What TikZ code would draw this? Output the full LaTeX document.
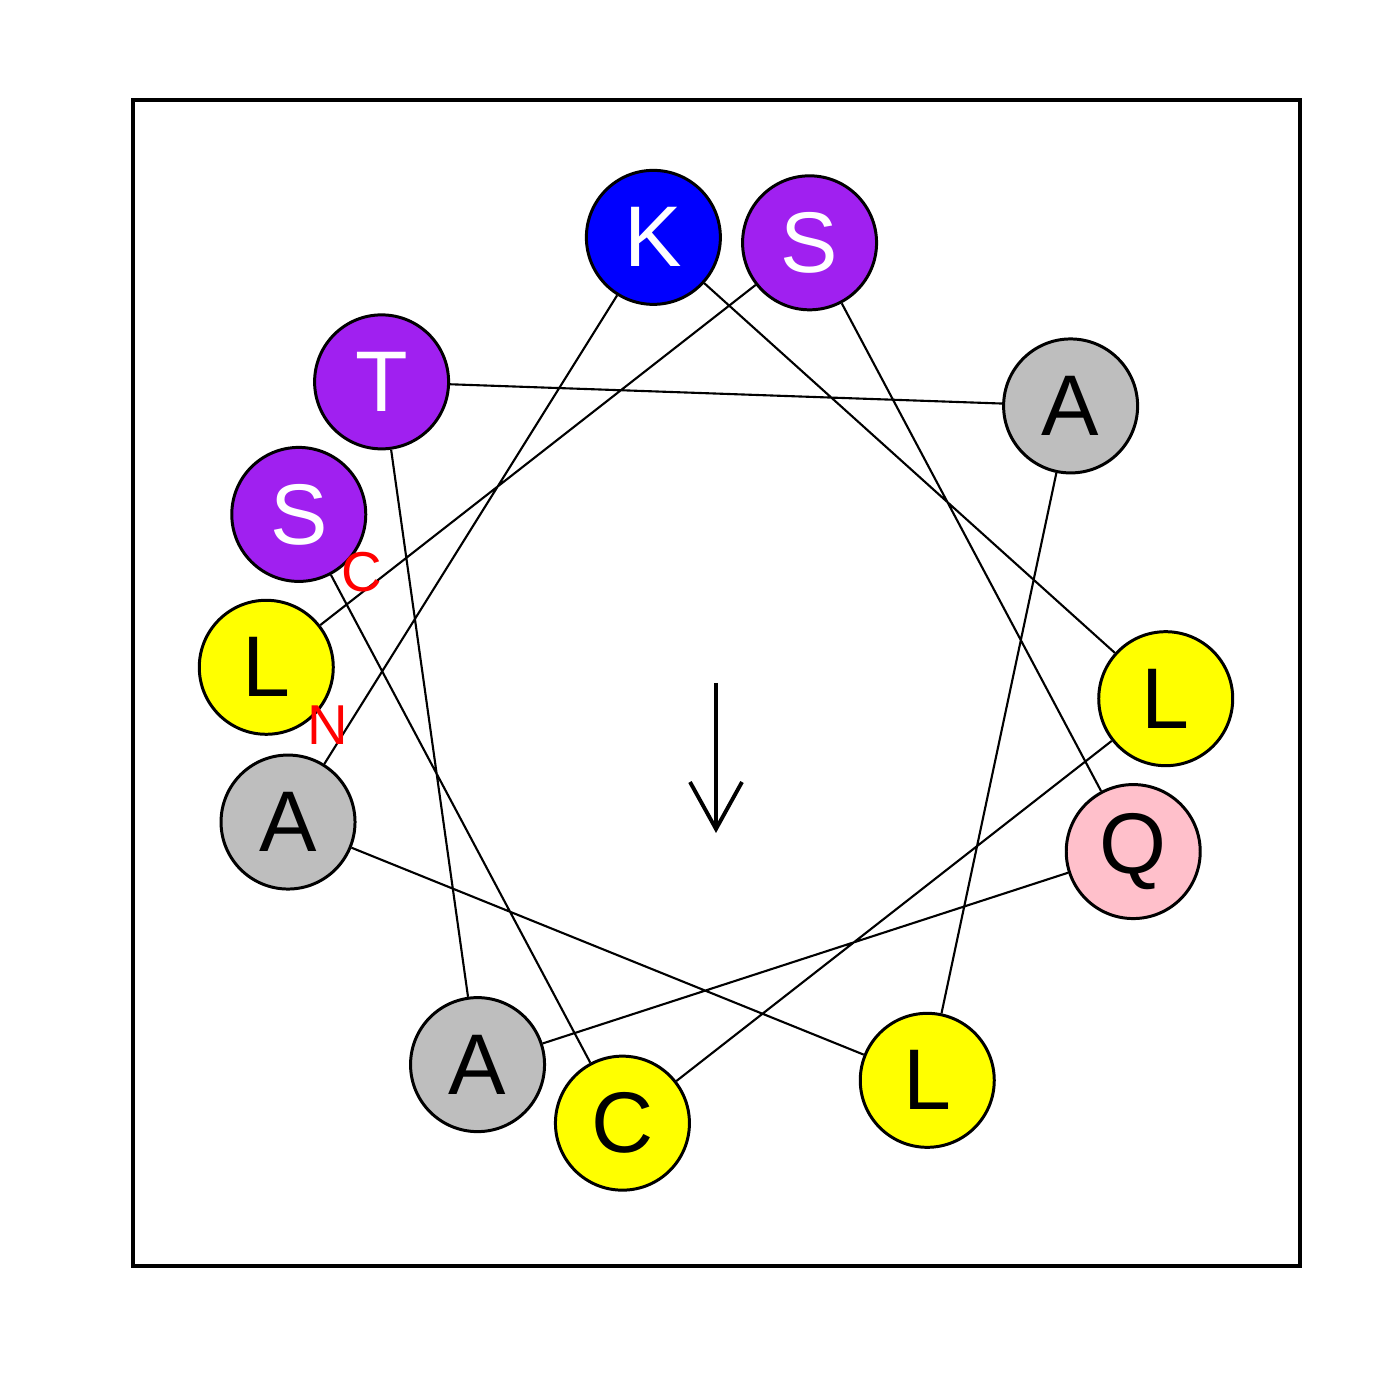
\documentclass[tikz,border=0pt]{standalone}
\usepackage{fontspec}
\setmainfont{Liberation Sans}
\usepackage{xcolor}
\usepackage{tikz}
\usetikzlibrary{arrows.meta,calc}
\definecolor{wheelPurple}{HTML}{A020F0}
\definecolor{wheelGray}{HTML}{BEBEBE}
\definecolor{wheelPink}{HTML}{FFC0CB}
\definecolor{wheelYellow}{HTML}{FFFF00}
\definecolor{wheelBlue}{HTML}{0000FF}
\tikzset{
  residue/.style={circle, draw=black, line width=0.85pt, minimum size=13.4mm,
    inner sep=0pt, font=\fontsize{24.5}{24.5}\selectfont},
  polar res/.style={residue, fill=wheelPurple, text=white},
  basic res/.style={residue, fill=wheelBlue, text=white},
  apolar res/.style={residue, fill=wheelGray, text=black},
  hydro res/.style={residue, fill=wheelYellow, text=black},
  amide res/.style={residue, fill=wheelPink, text=black},
  bond/.style={line width=0.6pt, draw=black},
  moment/.style={-{Straight Barb[length=4.7mm, width=5.2mm, line width=1.1pt]},
    line width=1.1pt},
  end label/.style={text=red, font=\fontsize{16}{16}\selectfont, inner sep=0pt},
  frame/.style={line width=1.1pt, draw=black}
}
\begin{document}
\begin{tikzpicture}
  \useasboundingbox (0,0) rectangle (14,14);
  \draw[frame] (1.33,1.34) rectangle (13.00,13.00);
  \coordinate (ctr) at (7.16,7.17);
  % residues, 100 degrees apart
  \node[hydro res]  (r1)  at ($(ctr)+(178:4.5)$) {L};
  \node[polar res]  (r2)  at ($(ctr)+(78:4.5)$)  {S};
  \node[amide res]  (r3)  at ($(ctr)+(-22:4.5)$) {Q};
  \node[apolar res] (r4)  at ($(ctr)+(-122:4.5)$) {A};
  \node[polar res]  (r5)  at ($(ctr)+(138:4.5)$) {T};
  \node[apolar res] (r6)  at ($(ctr)+(38:4.5)$)  {A};
  \node[hydro res]  (r7)  at ($(ctr)+(-62:4.5)$) {L};
  \node[apolar res] (r8)  at ($(ctr)+(198:4.5)$) {A};
  \node[basic res]  (r9)  at ($(ctr)+(98:4.5)$)  {K};
  \node[hydro res]  (r10) at ($(ctr)+(-2:4.5)$)  {L};
  \node[hydro res]  (r11) at ($(ctr)+(-102:4.5)$) {C};
  \node[polar res]  (r12) at ($(ctr)+(158:4.5)$) {S};
  \draw[bond] (r1) -- (r2) -- (r3) -- (r4) -- (r5) -- (r6) -- (r7)
    -- (r8) -- (r9) -- (r10) -- (r11) -- (r12);
  \node[end label] (nterm) at (3.28,6.75) {N};
  \node[end label] (cterm) at (3.62,8.28) {C};
  \coordinate (tip) at ($(ctr)+(0,-1.50)$);
  \draw[moment] (ctr) -- (tip);
\end{tikzpicture}
\end{document}
